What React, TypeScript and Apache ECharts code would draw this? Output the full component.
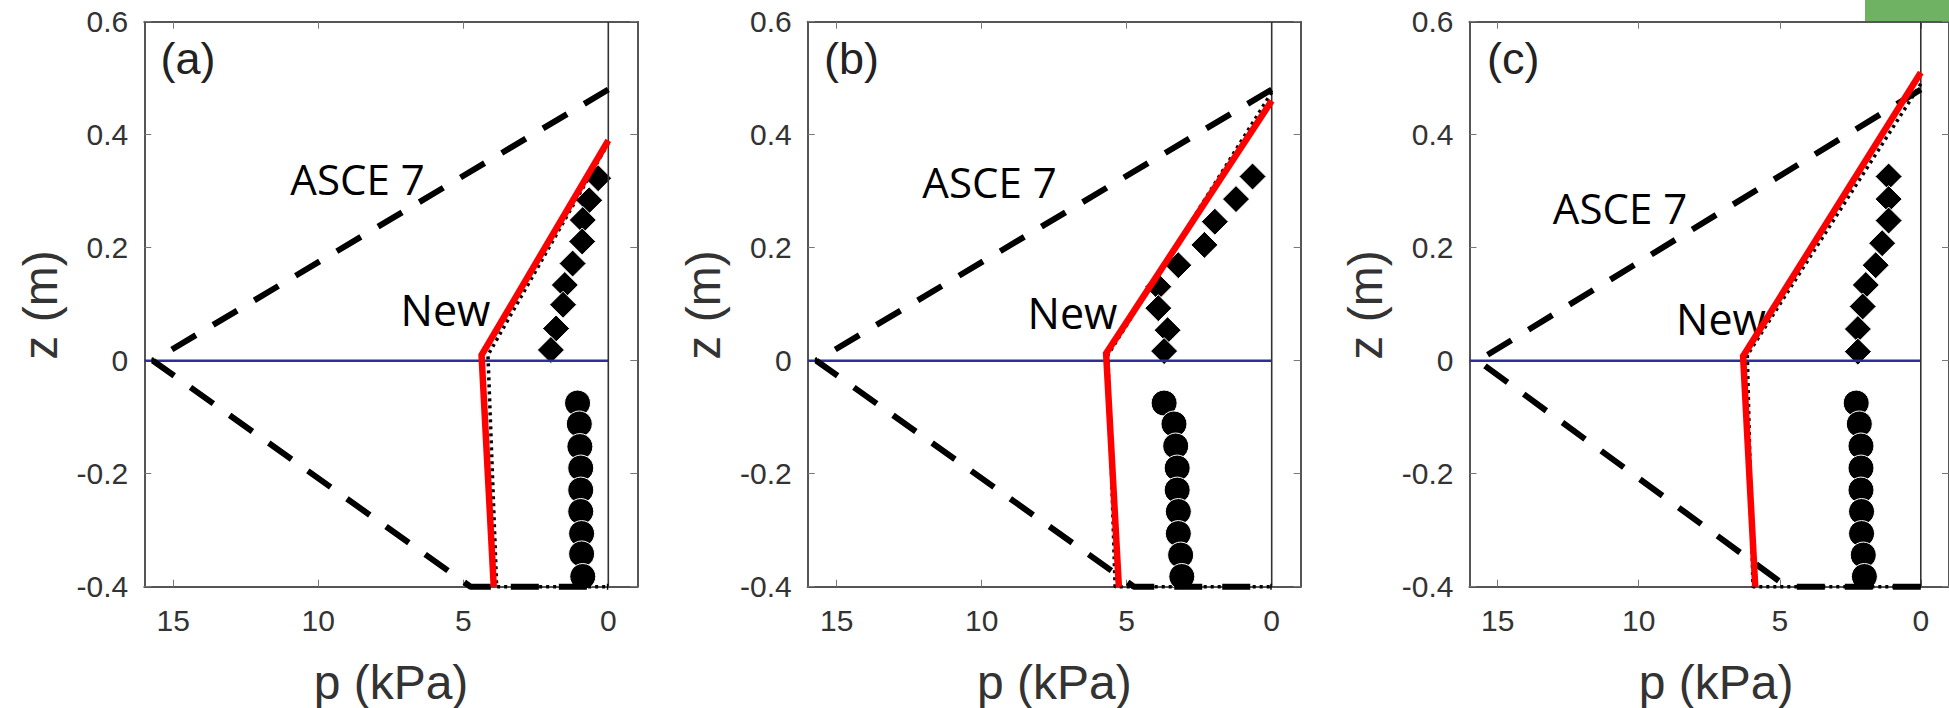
import React, { useEffect, useRef } from "react";
import * as echarts from "echarts";

// ---- data ----
const panelLabels = ["(a)", "(b)", "(c)"];
const xTickValues = [0, 5, 10, 15];
const zeroVertical = [[0, -0.4], [0, 0.6]];
const zeroHorizontal = [[16, 0], [0, 0]];
const asce7 = [[0, 0.48], [15.7, 0], [4.75, -0.4], [0, -0.4]];

const redA = [[0, 0.39], [4.37, 0.01], [3.95, -0.4]];
const redB = [[0, 0.46], [5.71, 0.013], [5.27, -0.4]];
const redC = [[0, 0.51], [6.3, 0.008], [5.87, -0.4]];

const dotA = [[0, 0.385], [4.15, 0.01], [3.85, -0.4], [0, -0.4]];
const dotB = [[0, 0.475], [5.65, 0.01], [5.4, -0.4], [0, -0.4]];
const dotC = [[0, 0.49], [6.15, 0.01], [5.95, -0.4], [0, -0.4]];

const diamondsA = [[0.35, 0.323], [0.66, 0.284], [0.88, 0.249], [0.9, 0.211], [1.23, 0.172], [1.5, 0.134], [1.56, 0.099], [1.8, 0.057], [1.98, 0.019]];
const circlesA = [[1.06, -0.075], [1.0, -0.112], [0.98, -0.152], [0.95, -0.19], [0.95, -0.229], [0.95, -0.267], [0.92, -0.306], [0.92, -0.342], [0.88, -0.382]];
const diamondsB = [[0.66, 0.326], [1.23, 0.286], [1.96, 0.246], [2.32, 0.205], [3.22, 0.169], [3.91, 0.131], [3.91, 0.093], [3.59, 0.054], [3.71, 0.017]];
const circlesB = [[3.71, -0.075], [3.37, -0.112], [3.31, -0.151], [3.26, -0.19], [3.26, -0.229], [3.22, -0.267], [3.22, -0.306], [3.14, -0.344], [3.1, -0.382]];
const diamondsC = [[1.14, 0.326], [1.14, 0.286], [1.14, 0.248], [1.37, 0.208], [1.6, 0.169], [1.95, 0.134], [2.06, 0.096], [2.23, 0.056], [2.23, 0.016]];
const circlesC = [[2.29, -0.075], [2.18, -0.112], [2.12, -0.151], [2.12, -0.19], [2.12, -0.229], [2.1, -0.267], [2.1, -0.306], [2.04, -0.344], [2.0, -0.382]];

const reds = [redA, redB, redC];
const dots = [dotA, dotB, dotC];
const diamonds = [diamondsA, diamondsB, diamondsC];
const circles = [circlesA, circlesB, circlesC];

// ---- layout ----
const gridLefts = [144.3, 807.7, 1469.5];
const GRID_TOP = 21.7;
const GRID_W = 493;
const GRID_H = 565;
const asceLabelPos = [[357.5, 178], [989.5, 181], [1620, 207]];
const newLabelPos = [[445.5, 309], [1072.5, 312], [1721, 318]];

const tickFont = "'Liberation Sans', Arial, sans-serif";
const annFont = "'Open Sans', sans-serif";

function buildOption() {
  const grid: any[] = [];
  const xAxis: any[] = [];
  const yAxis: any[] = [];
  const series: any[] = [];
  const graphic: any[] = [];

  for (let i = 0; i < 3; i++) {
    grid.push({ left: gridLefts[i], top: GRID_TOP, width: GRID_W, height: GRID_H, containLabel: false });
    for (const pos of ["bottom", "top"]) {
      xAxis.push({
        type: "value",
        gridIndex: i,
        position: pos,
        min: -1,
        max: 16,
        inverse: true,
        axisLine: { show: true, onZero: false, lineStyle: { color: "#555", width: 2 } },
        axisTick: { show: true, inside: true, length: 7, customValues: xTickValues, lineStyle: { color: "#777", width: 1 } },
        axisLabel: { show: pos === "bottom", customValues: xTickValues, margin: 19, fontSize: 30, color: "#333", fontFamily: tickFont },
        splitLine: { show: false },
      });
    }
    for (const pos of ["left", "right"]) {
      yAxis.push({
        type: "value",
        gridIndex: i,
        position: pos,
        min: -0.4,
        max: 0.6,
        interval: 0.2,
        axisLine: { show: true, onZero: false, lineStyle: { color: "#555", width: 2 } },
        axisTick: { show: true, inside: true, length: 7, lineStyle: { color: "#777", width: 1 } },
        axisLabel: {
          show: pos === "left",
          margin: 16,
          fontSize: 30,
          color: "#333",
          fontFamily: tickFont,
          formatter: (v: number) => String(Math.round(v * 10) / 10),
        },
        splitLine: { show: false },
      });
    }
    const xi = 2 * i;
    const yi = 2 * i;
    const lineBase = { type: "line", xAxisIndex: xi, yAxisIndex: yi, symbol: "none", silent: true, clip: false };
    series.push({ ...lineBase, data: zeroHorizontal, lineStyle: { color: "#2e2e96", width: 2.5 } });
    series.push({ ...lineBase, data: zeroVertical, lineStyle: { color: "#333", width: 1.6 } });
    series.push({ ...lineBase, data: asce7, lineStyle: { color: "#000", width: 6, type: [28, 20], cap: "butt" } });
    series.push({ ...lineBase, data: dots[i], lineStyle: { color: "#000", width: 3.5, type: [3, 4] } });
    series.push({
      type: "scatter", xAxisIndex: xi, yAxisIndex: yi, symbol: "diamond", symbolSize: [27, 27], data: diamonds[i],
      itemStyle: { color: "#000", opacity: 1, borderColor: "#fff", borderWidth: 1 }, silent: true,
    });
    series.push({
      type: "scatter", xAxisIndex: xi, yAxisIndex: yi, symbol: "circle", symbolSize: 26, data: circles[i],
      itemStyle: { color: "#000", opacity: 1, borderColor: "#fff", borderWidth: 1 }, silent: true,
    });
    series.push({ ...lineBase, data: reds[i], lineStyle: { color: "#ff0000", width: 6.5, join: "miter" } });

    const off = gridLefts[i] - gridLefts[0];
    const txt = (x: number, y: number, text: string, font: string, fill: string, rotation = 0) => ({
      type: "text",
      x,
      y,
      rotation,
      silent: true,
      style: { text, font, fill, align: "center", verticalAlign: "middle", textAlign: "center", textVerticalAlign: "middle" },
    });
    graphic.push(txt(188 + off, 58, panelLabels[i], `45px ${tickFont}`, "#222"));
    graphic.push(txt(asceLabelPos[i][0], asceLabelPos[i][1], "ASCE 7", `42px ${annFont}`, "#000"));
    graphic.push(txt(newLabelPos[i][0], newLabelPos[i][1], "New", `43px ${annFont}`, "#000"));
    graphic.push(txt(391 + off, 682, "p (kPa)", `48px ${tickFont}`, "#333"));
    graphic.push(txt(40 + off, 305, "z (m)", `48px ${tickFont}`, "#333", Math.PI / 2));
  }
  graphic.push({ type: "rect", shape: { x: 1865, y: 0, width: 84, height: 21 }, style: { fill: "#70b264" }, silent: true });

  return { animation: false, backgroundColor: "#fff", grid, xAxis, yAxis, series, graphic };
}

export default function App() {
  const ref = useRef<HTMLDivElement>(null);
  useEffect(() => {
    if (!ref.current) return;
    const chart = echarts.init(ref.current, undefined, { renderer: "svg" });
    chart.setOption(buildOption() as any);
    return () => chart.dispose();
  }, []);
  return <div ref={ref} style={{ position: "absolute", left: 0, top: 0, width: 1949, height: 708 }} />;
}
